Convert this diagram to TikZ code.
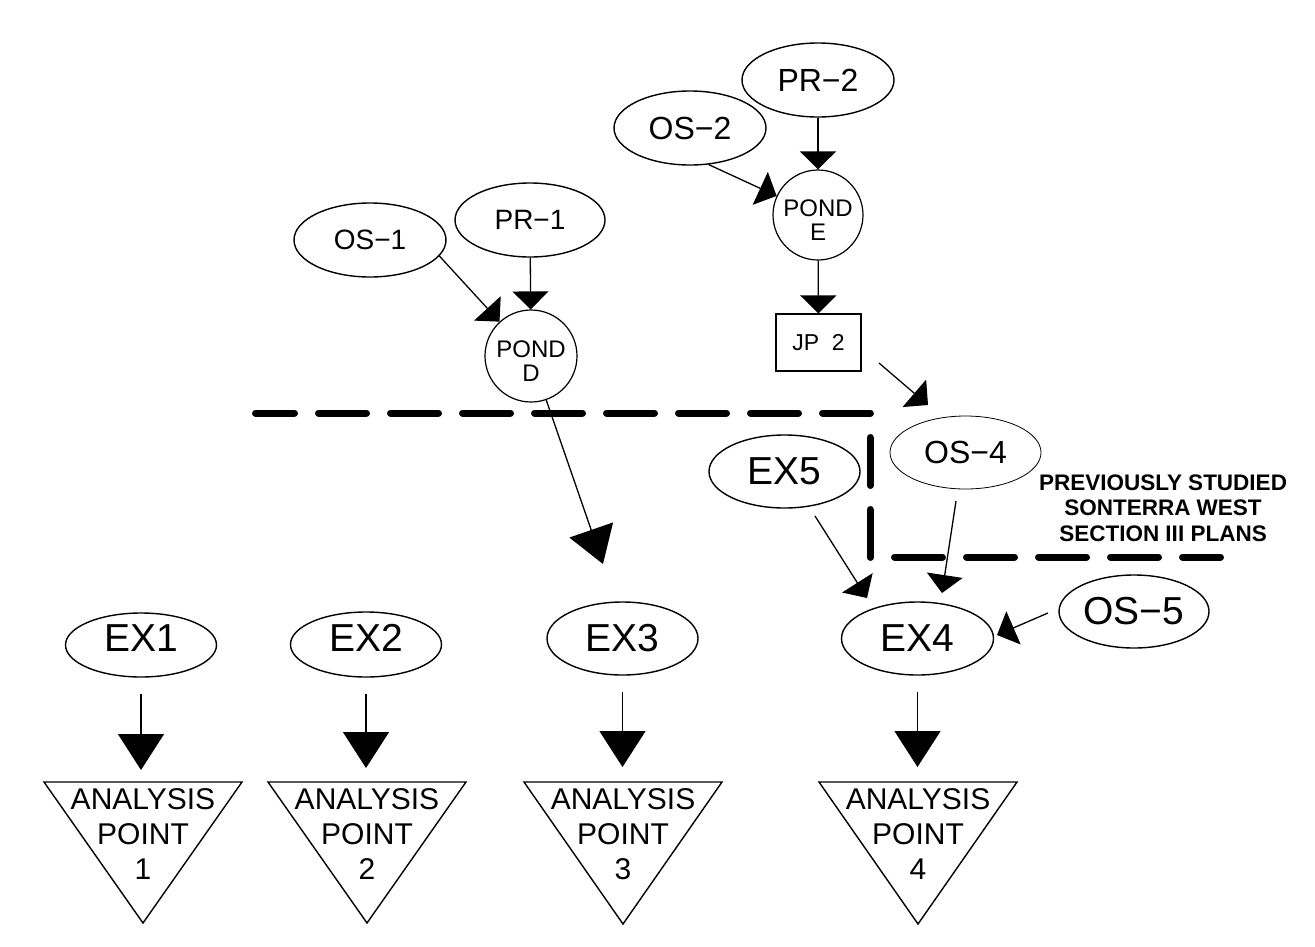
\documentclass[tikz,border=0pt]{standalone}
\usepackage{fontspec}
\setmainfont{Liberation Sans}
\usetikzlibrary{shapes.geometric,arrows.meta}
\newcommand{\pondlabel}[1]{\raisebox{-25pt}[0pt][0pt]{\begin{tabular}[b]{@{}c@{}}POND\\#1\end{tabular}}}
\begin{document}
\begin{tikzpicture}[x=1pt,y=-1pt,
  ell/.style={draw, ellipse, line width=1.4pt, minimum width=151pt, minimum height=73pt, inner sep=0pt},
  exell/.style={ell, font=\fontsize{39}{39}\selectfont},
  smell/.style={ell, font=\fontsize{28}{28}\selectfont},
  mdell/.style={ell, font=\fontsize{32}{32}\selectfont},
  pond/.style={draw, circle, line width=1.2pt, minimum size=92pt, inner sep=0pt,
     font=\fontsize{24}{24}\selectfont},
  jbox/.style={draw, rectangle, line width=1.2pt, minimum width=85pt, minimum height=57pt, inner sep=0pt,
     font=\fontsize{23}{23}\selectfont},
  aptext/.style={align=center, inner sep=0pt, font=\fontsize{30}{35}\selectfont},
  tri/.style={line width=1.4pt, line join=miter},
  conn/.style={line width=1.3pt, -{Triangle[width=36pt,length=18pt]}},
  bigconn/.style={line width=1.3pt, -{Triangle[width=46pt,length=36pt]}},
  boundary/.style={line width=7pt, line cap=round, line join=round, dash pattern=on 48pt off 24pt, dash phase=9pt},
  note/.style={align=center, inner sep=0pt, font=\bfseries\fontsize{22.5}{25.5}\selectfont}
]
\useasboundingbox (0,0) rectangle (1315,946);

% upper nodes
\node[smell, minimum width=152pt, minimum height=74pt] (os1) at (370,240) {OS−1};
\node[smell, minimum width=150pt, minimum height=74pt] (pr1) at (530,220) {PR−1};
\node[pond] (pondd) at (531,356) {\pondlabel{D}};
\node[mdell, minimum width=152pt, minimum height=74pt] (os2) at (690,128) {OS−2};
\node[mdell, minimum width=152pt, minimum height=74pt] (pr2) at (818,80) {PR−2};
\node[pond, minimum size=90pt] (ponde) at (818,215) {\pondlabel{E}};
\node[jbox] (jp2) at (818.5,342.5) {JP\hspace{0.55em}2};
\node[mdell, line width=0.8pt] (os4) at (965.5,452.5) {OS−4};
\node[exell] (ex5) at (784.5,471.5) {EX5};
\node[exell, minimum width=152pt] (ex4) at (917.5,638.5) {EX4};
\node[exell, minimum width=150pt] (os5) at (1134,611.5) {OS−5};

% lower row
\node[exell, minimum height=64pt] (ex1) at (141,645) {\raisebox{-6.5pt}[0pt][0pt]{EX1}};
\node[exell, minimum height=65pt] (ex2) at (366,644.5) {\raisebox{-6.5pt}[0pt][0pt]{EX2}};
\node[exell] (ex3) at (622.5,638.5) {EX3};

% analysis points
\draw[tri] (44,782) -- (242,782) -- (143,923) -- cycle;
\draw[tri] (268,782) -- (466,782) -- (367,923) -- cycle;
\draw[tri] (524,782) -- (722,782) -- (623,924) -- cycle;
\draw[tri] (819,782) -- (1017,782) -- (918,924) -- cycle;
\node[aptext] (ap1) at (143,834) {ANALYSIS\\POINT\\1};
\node[aptext] (ap2) at (367,834) {ANALYSIS\\POINT\\2};
\node[aptext] (ap3) at (623,834) {ANALYSIS\\POINT\\3};
\node[aptext] (ap4) at (918,834) {ANALYSIS\\POINT\\4};

% label
\node[note] (lbl) at (1163,508) {PREVIOUSLY STUDIED\\SONTERRA WEST\\SECTION III PLANS};

% boundary
\draw[boundary] (255.5,413) -- (870,413) -- (870,557) -- (1220.5,557);

% free arrow ends
\coordinate (t3) at (603,564);
\coordinate (j2s) at (879,363);
\coordinate (o4e) at (928,405);
\coordinate (e5s) at (815,516);
\coordinate (e5e) at (867,598);
\coordinate (o4s) at (956,501);
\coordinate (o4t) at (942,593);
\coordinate (o5s) at (1048,613);
\coordinate (o5t) at (997,635);
\coordinate (a1) at (141,770);
\coordinate (a2) at (366,768);
\coordinate (a3) at (622.5,767);
\coordinate (a4) at (917.5,767);

% connectors
\draw[conn] (os1.-13) -- (pondd);
\draw[conn] (pr1) -- (pondd);
\draw[bigconn] (pondd) -- (t3);
\draw[conn] (os2.-63) -- (ponde);
\draw[conn] (pr2) -- (ponde);
\draw[conn] (ponde) -- (jp2);
\draw[conn] (j2s) -- (o4e);
\draw[conn] (e5s) -- (e5e);
\draw[conn] (o4s) -- (o4t);
\draw[conn] (o5s) -- (o5t);
\draw[bigconn, shorten <=16pt] (ex1) -- (a1);
\draw[bigconn, shorten <=16pt] (ex2) -- (a2);
\draw[bigconn, shorten <=16pt] (ex3) -- (a3);
\draw[bigconn, shorten <=16pt] (ex4) -- (a4);
\end{tikzpicture}
\end{document}
